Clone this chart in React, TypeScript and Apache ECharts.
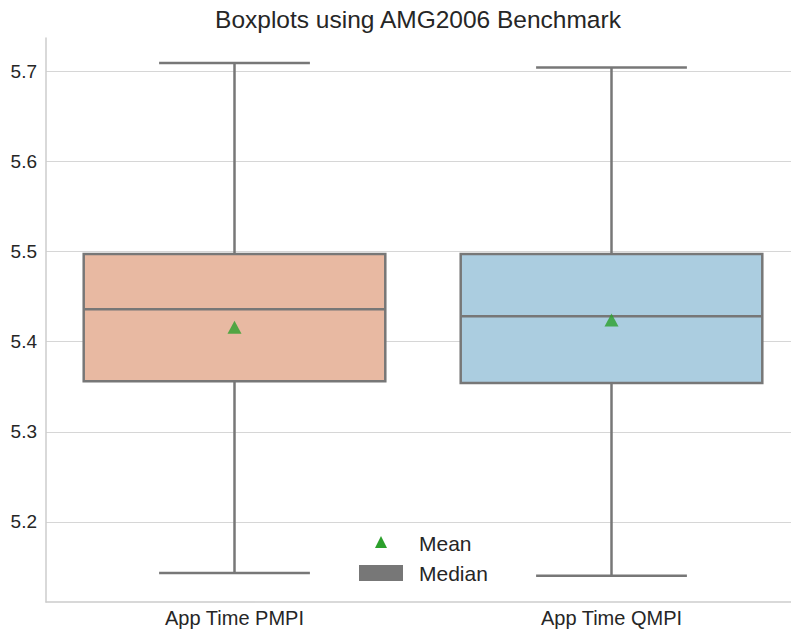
import React, { useEffect, useRef } from "react";
import * as echarts from "echarts";

const categories = ["App Time PMPI", "App Time QMPI"];
const minVals = [5.1435, 5.1405];
const q1Vals = [5.356, 5.354];
const medianVals = [5.436, 5.428];
const q3Vals = [5.497, 5.497];
const maxVals = [5.709, 5.704];
const meanVals = [5.416, 5.424];
const boxColors = ["#e8b9a2", "#abcde0"];

const FONT = "'Liberation Sans', Arial, Helvetica, sans-serif";
const TEXT = "#262626";
const STROKE = "#777777";

export default function App() {
  const ref = useRef<HTMLDivElement>(null);
  useEffect(() => {
    if (!ref.current) return;
    const chart = echarts.init(ref.current, undefined, { renderer: "svg" });
    const boxData = categories.map((_, i) => [i, minVals[i], q1Vals[i], medianVals[i], q3Vals[i], maxVals[i]]);
    chart.setOption({
      animation: false,
      textStyle: { fontFamily: FONT },
      title: {
        text: "Boxplots using AMG2006 Benchmark",
        left: 413,
        textAlign: "center",
        top: 2,
        textStyle: { fontFamily: FONT, fontSize: 24.5, fontWeight: "normal", color: TEXT },
      },
      grid: { left: 46, right: 0, top: 38, bottom: 32, containLabel: false },
      xAxis: {
        type: "category",
        data: categories,
        boundaryGap: true,
        axisLine: { show: true, lineStyle: { color: "#cccccc", width: 1.5 } },
        axisTick: { show: false },
        axisLabel: { fontFamily: FONT, fontSize: 20, color: TEXT, margin: 6 },
        splitLine: { show: false },
      },
      yAxis: {
        type: "value",
        min: 5.1113,
        max: 5.7366,
        minInterval: 0.1,
        maxInterval: 0.1,
        axisLine: { show: true, lineStyle: { color: "#cccccc", width: 1.5 } },
        axisTick: { show: false },
        axisLabel: {
          fontFamily: FONT,
          fontSize: 19,
          color: TEXT,
          margin: 9,
          showMinLabel: false,
          showMaxLabel: false,
          formatter: (v: number) => {
            const r = Math.round(v * 10) / 10;
            return Math.abs(r - v) < 1e-6 ? r.toFixed(1) : "";
          },
        },
        splitLine: { show: true, showMinLine: false, showMaxLine: false, lineStyle: { color: "#d6d6d6", width: 1 } },
      },
      series: [
        {
          type: "custom",
          name: "box",
          data: boxData,
          encode: { x: 0, y: [1, 2, 3, 4, 5] },
          z: 2,
          renderItem: (params: any, api: any) => {
            const idx = api.value(0);
            const pMin = api.coord([idx, api.value(1)]);
            const pQ1 = api.coord([idx, api.value(2)]);
            const pMed = api.coord([idx, api.value(3)]);
            const pQ3 = api.coord([idx, api.value(4)]);
            const pMax = api.coord([idx, api.value(5)]);
            const band = api.size([1, 0])[0];
            const half = band * 0.4;
            const cap = half / 2;
            const cx = pMed[0];
            const ls = { stroke: STROKE, lineWidth: 2.5 };
            return {
              type: "group",
              children: [
                { type: "line", shape: { x1: cx, y1: pQ3[1], x2: cx, y2: pMax[1] }, style: ls },
                { type: "line", shape: { x1: cx, y1: pQ1[1], x2: cx, y2: pMin[1] }, style: ls },
                { type: "line", shape: { x1: cx - cap, y1: pMax[1], x2: cx + cap, y2: pMax[1] }, style: ls },
                { type: "line", shape: { x1: cx - cap, y1: pMin[1], x2: cx + cap, y2: pMin[1] }, style: ls },
                {
                  type: "rect",
                  shape: { x: cx - half, y: pQ3[1], width: half * 2, height: pQ1[1] - pQ3[1] },
                  style: { fill: boxColors[params.dataIndex], stroke: STROKE, lineWidth: 2.5 },
                },
                { type: "line", shape: { x1: cx - half, y1: pMed[1], x2: cx + half, y2: pMed[1] }, style: ls },
              ],
            };
          },
        },
        {
          type: "scatter",
          name: "Mean",
          data: categories.map((c, i) => [c, meanVals[i]]),
          symbol: "triangle",
          symbolSize: [14, 13],
          itemStyle: { color: "#2ca02c" },
          z: 5,
        },
      ],
      graphic: [
        {
          type: "polygon",
          shape: { points: [[381, 536], [375, 548], [387, 548]] },
          style: { fill: "#2ca02c" },
        },
        {
          type: "text",
          x: 419,
          y: 543,
          style: { text: "Mean", fontFamily: FONT, fontSize: 21, fill: TEXT, verticalAlign: "middle" },
        },
        {
          type: "rect",
          shape: { x: 359, y: 565, width: 44, height: 16 },
          style: { fill: STROKE },
        },
        {
          type: "text",
          x: 419,
          y: 573,
          style: { text: "Median", fontFamily: FONT, fontSize: 21, fill: TEXT, verticalAlign: "middle" },
        },
      ],
    });
    return () => chart.dispose();
  }, []);
  return (
    <div style={{ position: "absolute", left: 0, top: 0, width: 791, height: 634, overflow: "hidden" }}>
      <div ref={ref} style={{ width: 800, height: 634 }} />
    </div>
  );
}
